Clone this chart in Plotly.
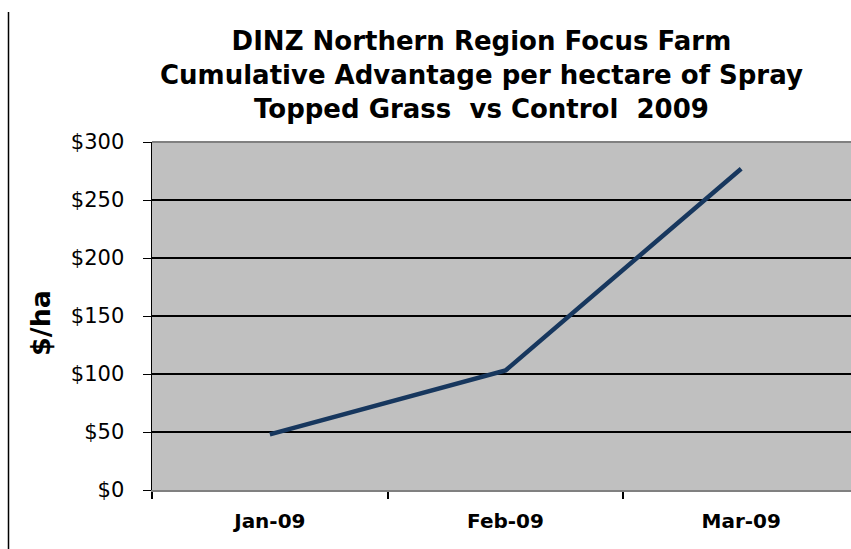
import plotly.graph_objects as go

months = ["Jan-09", "Feb-09", "Mar-09"]
advantage = [48, 103, 277]
y_ticks = [0, 50, 100, 150, 200, 250, 300]
y_tick_labels = ["$0", "$50", "$100", "$150", "$200", "$250", "$300"]

W, H = 851, 549
L, R, T, B = 152, 0, 142, 59
PW, PH = W - L - R, H - T - B


def px(xs):  # screen x -> paper x
    return (xs - L) / PW


def py(ys):  # screen y -> paper y
    return (H - B - ys) / PH


fig = go.Figure()
fig.add_trace(go.Scatter(
    x=months, y=advantage, mode="lines",
    line=dict(color="#17375E", width=4.5),
    showlegend=False, hoverinfo="skip"))

fig.update_layout(
    width=W, height=H,
    margin=dict(l=L, r=R, t=T, b=B, autoexpand=False),
    paper_bgcolor="white",
    plot_bgcolor="#C0C0C0",
    font=dict(family="DejaVu Sans", color="black"),
    xaxis=dict(
        type="category", range=[-0.5, 2.466],
        tickson="boundaries", ticks="outside", ticklen=7, tickwidth=2, tickcolor="black",
        showgrid=False, showline=True, linecolor="#808080", linewidth=2,
        tickfont=dict(family="DejaVu Sans", size=20, color="black"),
        tickprefix="<b>", ticksuffix="</b>",
        ticklabelstandoff=12, fixedrange=True, automargin=False),
    yaxis=dict(
        range=[0, 300], tickvals=y_ticks, ticktext=y_tick_labels,
        ticks="outside", ticklen=8, tickcolor="black", tickwidth=1,
        showgrid=True, gridcolor="black", gridwidth=1.5,
        showline=True, linecolor="black", linewidth=1.5,
        zeroline=False,
        tickfont=dict(family="DejaVu Sans", size=21, color="black"),
        ticklabelstandoff=14,
        fixedrange=True, automargin=False),
)

fig.add_annotation(
    text="<b>DINZ Northern Region Focus Farm<br>Cumulative Advantage per hectare of Spray<br>Topped Grass  vs Control  2009</b>",
    xref="paper", yref="paper", x=px(481), y=py(75), xanchor="center", yanchor="middle",
    showarrow=False, align="center",
    font=dict(family="DejaVu Sans", size=26, color="black"))

fig.add_annotation(
    text="<b>$/ha</b>", textangle=-90,
    xref="paper", yref="paper", x=px(40), y=py(323), xanchor="center", yanchor="middle",
    showarrow=False, font=dict(family="DejaVu Sans", size=27, color="black"))

# top border of plot area (gray)
fig.add_shape(type="line", xref="paper", yref="paper", x0=0, x1=1, y0=1, y1=1,
              line=dict(color="#808080", width=2))
# left frame line of the picture
fig.add_shape(type="line", xref="paper", yref="paper",
              x0=px(8.5), x1=px(8.5), y0=py(12), y1=py(560),
              line=dict(color="black", width=1.5))

fig.write_html(
    "out.html",
    config={"displayModeBar": False, "staticPlot": True},
    post_script="document.body.style.margin='0';document.body.style.overflow='hidden';")
